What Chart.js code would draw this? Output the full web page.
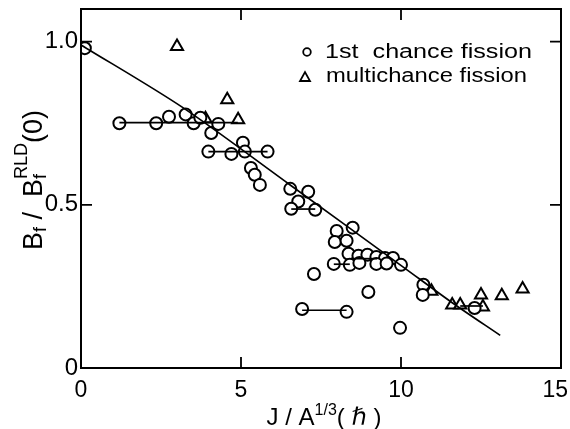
<!DOCTYPE html>
<html>
<head>
<meta charset="utf-8">
<script src="https://cdn.jsdelivr.net/npm/chart.js@4.4.1/dist/chart.umd.min.js"></script>
<style>
  html, body { margin: 0; padding: 0; background: #fff; }
  #wrap { width: 570px; height: 429px; position: relative; }
</style>
</head>
<body>
<div id="wrap"><canvas id="c"></canvas></div>
<script>
// 1st chance fission (circles)
const circleX = [0.12, 1.2, 2.35, 2.75, 3.27, 3.52, 3.73, 4.07, 4.29, 3.98, 4.7, 5.06, 5.12, 5.83,
  5.31, 5.43, 5.59, 6.54, 7.1, 6.79, 6.57, 7.32, 8.49, 7.99, 7.93, 8.3, 8.36, 7.9, 8.4, 8.67,
  8.95, 9.23, 9.5, 9.75, 10.0, 9.23, 9.55, 8.7, 7.28, 8.98, 6.91, 8.3, 9.97, 10.7, 10.68, 12.3];
const circleY = [0.98, 0.75, 0.75, 0.77, 0.777, 0.75, 0.767, 0.72, 0.748, 0.663, 0.656, 0.69, 0.663, 0.663,
  0.613, 0.592, 0.561, 0.549, 0.54, 0.51, 0.488, 0.485, 0.43, 0.42, 0.386, 0.39, 0.35, 0.319, 0.316, 0.344,
  0.347, 0.34, 0.337, 0.337, 0.316, 0.319, 0.32, 0.322, 0.288, 0.233, 0.181, 0.172, 0.123, 0.255, 0.224, 0.184];

// multichance fission (triangles)
const triX = [3.0, 4.57, 3.89, 4.91, 10.95, 11.6, 11.85, 12.5, 12.56, 13.15, 13.8];
const triY = [0.985, 0.822, 0.764, 0.761, 0.235, 0.193, 0.193, 0.224, 0.187, 0.221, 0.242];

// horizontal connectors between points
const segStart = [1.2, 3.98, 6.57, 7.9, 8.45, 6.91, 11.85];
const segEnd   = [4.9, 5.83, 7.32, 8.4, 9.25, 8.3, 12.56];
const segY     = [0.752, 0.663, 0.487, 0.318, 0.335, 0.177, 0.19];

// smooth trend curve
const curveX = [0, 3.15, 6.45, 10.06, 11.6, 13.1];
const curveY = [0.99, 0.80, 0.567, 0.31, 0.20, 0.10];

const xTicks = [0, 5, 10, 15];
const yTicks = [0, 0.5, 1.0];

const FONT = '"Liberation Sans", "DejaVu Sans", sans-serif';

const toPts = (xs, ys) => xs.map((x, i) => ({ x: x, y: ys[i] }));

const datasets = [];
segStart.forEach((s, i) => {
  datasets.push({
    type: 'line',
    data: [{ x: s, y: segY[i] }, { x: segEnd[i], y: segY[i] }],
    borderColor: '#000', borderWidth: 1.7, pointRadius: 0, fill: false
  });
});
datasets.push({
  type: 'line',
  data: toPts(curveX, curveY),
  borderColor: '#000', borderWidth: 1.7, pointRadius: 0, tension: 0.3, fill: false
});
datasets.push({
  label: '1st chance fission',
  data: toPts(circleX, circleY),
  pointStyle: 'circle', pointRadius: 6, borderColor: '#000', borderWidth: 2,
  backgroundColor: '#fff', showLine: false
});
datasets.push({
  label: 'multichance fission',
  data: toPts(triX, triY),
  pointStyle: 'triangle', pointRadius: 7, borderColor: '#000', borderWidth: 2,
  backgroundColor: '#fff', showLine: false
});

// 多段文字（上下标）
function drawRich(ctx, parts, x, y) {
  let w = 0;
  parts.forEach(p => {
    ctx.font = p.size + 'px ' + FONT;
    p.w = p.stack
      ? Math.max(ctx.measureText(p.sub).width, ctx.measureText(p.sup).width)
      : ctx.measureText(p.t).width;
    w += p.w;
  });
  let cx = x - w / 2;
  parts.forEach(p => {
    ctx.font = p.size + 'px ' + FONT;
    if (p.stack) {
      ctx.fillText(p.sub, cx, y + p.subDy);
      ctx.fillText(p.sup, cx, y + p.supDy);
    } else {
      ctx.fillText(p.t, cx, y + (p.dy || 0));
    }
    cx += p.w;
  });
}

// 拉伸文字到指定宽度
function fitText(ctx, text, x, y, width) {
  const m = ctx.measureText(text).width;
  ctx.save();
  ctx.translate(x, y);
  ctx.scale(width / m, 1);
  ctx.fillText(text, 0, 0);
  ctx.restore();
}

const decor = {
  id: 'decor',
  afterDraw(chart) {
    const { ctx, chartArea: a, scales } = chart;
    const xs = scales.x, ys = scales.y;
    ctx.save();
    ctx.strokeStyle = '#000';
    ctx.fillStyle = '#000';
    ctx.lineWidth = 2;
    ctx.strokeRect(a.left, a.top, a.right - a.left, a.bottom - a.top);

    // inward ticks
    ctx.lineWidth = 1.8;
    [5, 10].forEach(v => {
      const px = xs.getPixelForValue(v);
      ctx.beginPath();
      ctx.moveTo(px, a.bottom); ctx.lineTo(px, a.bottom - 11);
      ctx.moveTo(px, a.top); ctx.lineTo(px, a.top + 11);
      ctx.stroke();
    });
    [0.5, 1.0].forEach(v => {
      const py = ys.getPixelForValue(v);
      ctx.beginPath();
      ctx.moveTo(a.left, py); ctx.lineTo(a.left + 11, py);
      ctx.moveTo(a.right, py); ctx.lineTo(a.right - 11, py);
      ctx.stroke();
    });

    // legend
    ctx.font = '20px ' + FONT;
    ctx.textBaseline = 'middle';
    ctx.lineWidth = 1.8;
    ctx.beginPath();
    ctx.arc(307, 52, 3.8, 0, Math.PI * 2);
    ctx.stroke();
    fitText(ctx, '1st  chance fission', 325, 52, 207);
    ctx.beginPath();
    ctx.moveTo(300, 81); ctx.lineTo(310, 81); ctx.lineTo(305, 72); ctx.closePath();
    ctx.stroke();
    fitText(ctx, 'multichance fission', 326, 76, 201);

    // x title
    ctx.textBaseline = 'alphabetic';
    drawRich(ctx, [
      { t: 'J / A', size: 24 },
      { t: '1/3', size: 16, dy: -10 },
      { t: '( ℏ )', size: 24 }
    ], 324, 425);

    // y title (rotated)
    ctx.translate(42, 180);
    ctx.rotate(-Math.PI / 2);
    drawRich(ctx, [
      { t: 'B', size: 27 },
      { t: 'f', size: 18, dy: 4 },
      { t: ' /  B', size: 27 },
      { stack: true, sub: 'f', sup: 'RLD', size: 18, subDy: 4, supDy: -15 },
      { t: '(0)', size: 27 }
    ], 0, 0);
    ctx.restore();
  }
};

new Chart(document.getElementById('c'), {
  type: 'scatter',
  data: { datasets: datasets },
  plugins: [decor],
  options: {
    responsive: true,
    maintainAspectRatio: false,
    animation: false,
    layout: { padding: { top: 9, right: 7, left: 0, bottom: 0 } },
    plugins: { legend: { display: false }, tooltip: { enabled: false } },
    scales: {
      x: {
        type: 'linear', min: 0, max: 15,
        afterBuildTicks: s => { s.ticks = xTicks.map(v => ({ value: v })); },
        afterFit: s => { s.height = 61; s.paddingLeft = 0; s.paddingRight = 0; },
        grid: { display: false, drawTicks: false },
        border: { display: false },
        ticks: { color: '#000', font: { family: FONT, size: 23 }, padding: 9,
                 maxRotation: 0, callback: v => (v === 15 ? '15\u2002' : String(v)) }
      },
      y: {
        type: 'linear', min: 0, max: 1.1,
        afterBuildTicks: s => { s.ticks = yTicks.map(v => ({ value: v })); },
        afterFit: s => { s.width = 81; s.paddingTop = 0; s.paddingBottom = 0; },
        grid: { display: false, drawTicks: false },
        border: { display: false },
        ticks: { color: '#000', font: { family: FONT, size: 24 }, padding: 3,
                 callback: v => (v === 0 ? '0' : v.toFixed(1)) }
      }
    }
  }
});
</script>
</body>
</html>
